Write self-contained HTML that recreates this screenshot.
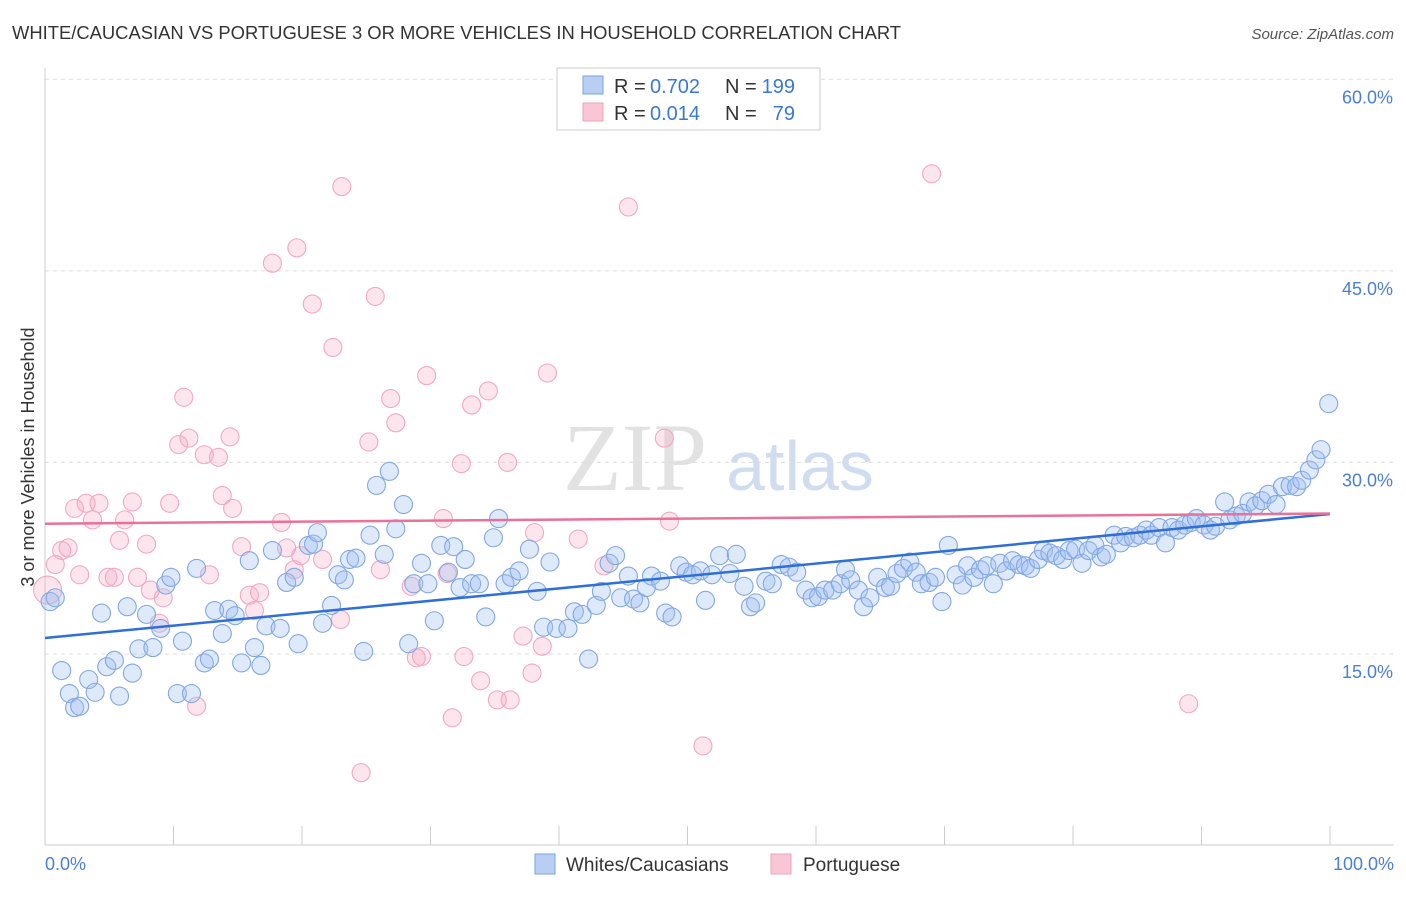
<!DOCTYPE html>
<html><head><meta charset="utf-8"><style>
body{margin:0;background:#fff;font-family:"Liberation Sans",sans-serif}
</style></head><body>
<svg id="chart" width="1406" height="892" xmlns="http://www.w3.org/2000/svg" font-family="Liberation Sans, sans-serif">
<text x="12" y="39" font-size="18.4" fill="#333">WHITE/CAUCASIAN VS PORTUGUESE 3 OR MORE VEHICLES IN HOUSEHOLD CORRELATION CHART</text>
<text x="1394" y="39" font-size="15" fill="#555" font-style="italic" text-anchor="end">Source: ZipAtlas.com</text>
<text x="635" y="490" font-size="96" fill="#e2e2e2" font-family="Liberation Serif, serif" text-anchor="middle">ZIP</text>
<text x="800" y="490" font-size="70" fill="#d0ddf0" text-anchor="middle">atlas</text>
<g id="grid"></g><g id="axes"></g><g id="pts"></g><g id="trend"></g>
<text transform="translate(34,457) rotate(-90)" font-size="18" fill="#333" text-anchor="middle">3 or more Vehicles in Household</text>
<text x="45" y="870" font-size="18" fill="#4a7fd4">0.0%</text>
<text x="1394" y="870" font-size="18" fill="#4a7fd4" text-anchor="end">100.0%</text>
<g>
<rect x="557" y="68" width="263" height="62" fill="#fff" stroke="#ccc"/>
<rect x="583" y="76" width="20" height="18" fill="#b8cff3" stroke="#7aa3e0"/>
<rect x="583" y="103" width="20" height="18" fill="#f9c6d6" stroke="#f0a0bc"/>
<text x="614" y="93" font-size="20" fill="#333">R =</text>
<text x="650" y="93" font-size="20" fill="#3a78d8">0.702</text>
<text x="725" y="93" font-size="20" fill="#333">N =</text>
<text x="795" y="93" font-size="20" fill="#3a78d8" text-anchor="end">199</text>
<text x="614" y="120" font-size="20" fill="#333">R =</text>
<text x="650" y="120" font-size="20" fill="#3a78d8">0.014</text>
<text x="725" y="120" font-size="20" fill="#333">N =</text>
<text x="795" y="120" font-size="20" fill="#3a78d8" text-anchor="end">79</text>
</g>
<g>
<rect x="535" y="854" width="20" height="20" fill="#b8cff3" stroke="#7aa3e0"/>
<text x="566" y="871" font-size="19" fill="#333">Whites/Caucasians</text>
<rect x="771" y="854" width="20" height="20" fill="#f9c6d6" stroke="#f0a0bc"/>
<text x="803" y="871" font-size="19" fill="#333">Portuguese</text>
</g>
</svg>
<script>
const yTicks=[15,30,45,60];
const xTicks=[0,10,20,30,40,50,60,70,80,90,100];
const blueX=[0.4,0.8,1.3,1.9,2.3,2.7,3.4,3.9,4.4,4.8,5.4,5.8,6.4,6.8,7.3,7.9,8.4,9.0,9.4,9.8,10.3,10.7,11.4,11.8,12.4,12.8,13.2,13.8,14.3,14.8,15.3,15.9,16.3,16.8,17.2,17.7,18.3,18.8,19.4,19.7,20.5,20.9,21.2,21.6,22.3,22.8,23.3,23.7,24.2,24.8,25.3,25.8,26.4,26.8,27.3,27.9,28.3,28.7,29.3,29.8,30.3,30.8,31.4,31.8,32.3,32.7,33.2,33.8,34.3,34.9,35.3,35.8,36.3,36.9,37.7,38.3,38.8,39.3,39.8,40.7,41.2,41.8,42.3,42.9,43.3,43.9,44.4,44.8,45.4,45.8,46.3,46.8,47.2,47.9,48.3,48.8,49.4,49.9,50.4,51.0,51.4,51.9,52.5,53.3,53.8,54.4,54.9,55.3,56.1,56.6,57.3,57.9,58.5,59.2,59.7,60.2,60.7,61.3,61.9,62.3,62.7,63.3,63.7,64.2,64.8,65.4,65.8,66.3,66.8,67.3,67.8,68.2,68.8,69.3,69.8,70.3,70.9,71.4,71.8,72.3,72.8,73.3,73.8,74.3,74.8,75.3,75.8,76.3,76.7,77.3,77.7,78.2,78.7,79.2,79.7,80.2,80.7,81.2,81.7,82.2,82.6,83.2,83.7,84.1,84.7,85.2,85.7,86.1,86.7,87.2,87.7,88.2,88.7,89.2,89.6,90.2,90.7,91.1,91.8,92.2,92.7,93.2,93.7,94.2,94.7,95.2,95.8,96.3,96.9,97.4,97.8,98.4,98.9,99.3,99.9];
const blueY=[19.1,19.4,13.7,11.9,10.8,10.9,13.0,12.0,18.2,14.0,14.5,11.7,18.7,13.5,15.4,18.1,15.5,17.0,20.4,21.0,11.9,16.0,11.9,21.7,14.3,14.6,18.4,16.6,18.5,18.0,14.3,22.3,15.5,14.1,17.2,23.1,17.0,20.6,21.0,15.8,23.5,23.6,24.5,17.4,18.8,21.2,20.8,22.4,22.5,15.2,24.3,28.2,22.8,29.3,24.8,26.7,15.8,20.5,22.1,20.5,17.6,23.5,21.4,23.4,20.2,22.4,20.5,20.5,17.9,24.1,25.6,20.5,21.0,21.5,23.2,19.9,17.1,22.2,17.0,17.0,18.3,18.1,14.6,18.8,19.9,22.1,22.7,19.4,21.1,19.3,19.0,20.2,21.1,20.7,18.2,17.9,21.9,21.4,21.2,21.5,19.2,21.2,22.7,21.3,22.8,20.3,18.7,19.0,20.7,20.5,22.0,21.8,21.4,20.0,19.4,19.5,20.0,20.0,20.5,21.6,20.8,20.0,18.7,19.4,21.0,20.2,20.3,21.3,21.7,22.2,21.4,20.5,20.6,21.0,19.1,23.5,21.2,20.4,21.9,21.0,21.6,21.9,20.5,22.1,21.5,22.3,22.0,21.9,21.7,22.4,23.1,22.9,22.7,22.4,23.1,23.2,22.1,23.1,23.5,22.6,22.8,24.3,23.7,24.2,24.1,24.3,24.7,24.3,24.9,23.7,24.9,24.7,25.1,25.3,25.6,25.1,24.7,25.0,26.9,25.5,25.8,26.0,26.9,26.6,27.0,27.5,26.7,28.1,28.2,28.1,28.6,29.4,30.2,31.0,34.6];
const pinkX=[23.1,45.4,69.0,17.7,19.6,20.8,25.7,22.4,10.8,26.9,29.7,34.5,33.2,39.1,27.3,11.2,10.4,14.4,12.4,13.5,25.2,32.4,36.0,48.2,2.3,3.2,4.2,3.7,6.8,9.7,6.2,13.8,14.6,18.4,31.0,38.1,48.6,1.3,1.8,0.8,2.7,5.8,7.9,4.9,5.4,7.2,12.8,15.3,18.8,19.9,21.6,19.4,26.1,31.3,41.5,43.5,8.2,9.2,15.9,16.7,16.3,28.5,8.9,23.0,28.9,29.3,32.6,37.2,38.7,33.9,37.9,35.2,36.2,11.8,31.7,51.2,24.6,89.0,0.2];
const pinkY=[51.6,50.0,52.6,45.6,46.8,42.4,43.0,39.0,35.1,35.0,36.8,35.6,34.5,37.0,33.1,31.9,31.4,32.0,30.6,30.4,31.6,29.9,30.0,31.9,26.4,26.8,26.8,25.5,26.9,26.8,25.5,27.4,26.4,25.3,25.6,24.5,25.4,23.1,23.3,22.0,21.2,23.9,23.6,21.0,21.0,21.0,21.2,23.4,23.3,22.7,22.4,21.6,21.6,21.3,24.0,21.9,20.0,19.4,19.6,19.8,18.4,20.3,17.4,17.7,14.7,14.8,14.8,16.4,15.6,12.9,13.5,11.4,11.4,10.9,10.0,7.8,5.7,11.1,20.0];
const blueTrend=[16.25,25.96];
const pinkTrend=[25.2,26.0];
const NS='http://www.w3.org/2000/svg';
const X=v=>45+v*12.85, Y=v=>845.5-v*12.77;
function mk(p,t,a){const e=document.createElementNS(NS,t);for(const k in a)e.setAttribute(k,a[k]);document.getElementById(p).appendChild(e);return e;}
yTicks.forEach(t=>{const l=mk('grid','line',{x1:45,x2:1394,y1:Y(t),y2:Y(t),stroke:'#ddd','stroke-dasharray':'4,4'});


const tx=mk('grid','text',{x:1393,y:Y(t)+24,'font-size':18,fill:'#4a7fd4','text-anchor':'end'});tx.textContent=t.toFixed(1)+'%';

});
const ax=mk('axes','line',{x1:45,x2:45,y1:68,y2:845,stroke:'#ccc'});


const bx=mk('axes','line',{x1:45,x2:1394,y1:845,y2:845,stroke:'#ccc'});


xTicks.forEach(t=>{const l=mk('axes','line',{x1:X(t),x2:X(t),y1:826,y2:845,stroke:'#ccc'});

});
pinkX.forEach((v,i)=>{const c=mk('pts','circle',{cx:X(v),cy:Y(pinkY[i]),r:i==pinkX.length-1?14:9,fill:'rgba(246,170,196,0.3)',stroke:'#f2a8c2','stroke-width':1.1});

});
blueX.forEach((v,i)=>{const c=mk('pts','circle',{cx:X(v),cy:Y(blueY[i]),r:9,fill:'rgba(160,192,240,0.35)',stroke:'#82a8e2','stroke-width':1.1});

});
const bt=mk('trend','line',{x1:X(0),x2:X(100),y1:Y(blueTrend[0]),y2:Y(blueTrend[1]),stroke:'#2f6fd6','stroke-width':2.5});


const pt=mk('trend','line',{x1:X(0),x2:X(100),y1:Y(pinkTrend[0]),y2:Y(pinkTrend[1]),stroke:'#e8729a','stroke-width':2.5});


</script>
</body></html>
